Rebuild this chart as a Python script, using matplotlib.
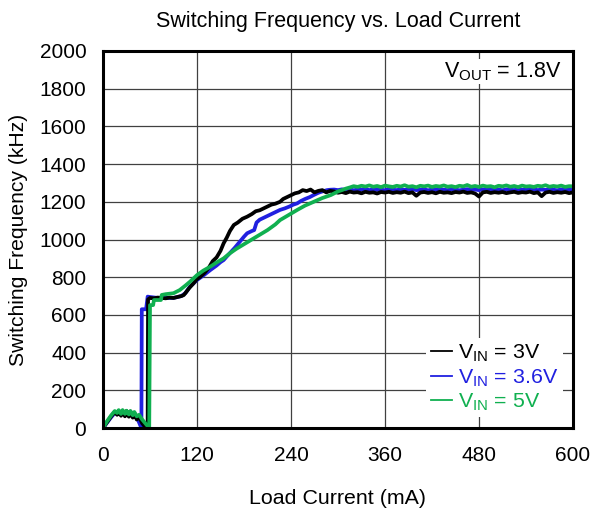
import numpy as np
import matplotlib
matplotlib.use('Agg')
import matplotlib.pyplot as plt
from matplotlib.lines import Line2D

plt.rcParams['font.family'] = ['Liberation Sans', 'DejaVu Sans']
plt.rcParams['mathtext.fontset'] = 'custom'
plt.rcParams['mathtext.rm'] = 'Liberation Sans'
plt.rcParams['mathtext.it'] = 'Liberation Sans'

# load current (mA) and switching frequency (kHz)
flat_ma = list(range(295, 601, 5))

ma_3v = [0, 5, 10, 15, 18, 20, 23, 25, 28, 30, 33, 35, 38, 40, 43, 46, 50, 54, 57,
         57.5, 60, 65, 70, 75, 80, 85, 90, 95, 100, 103, 106, 110, 115, 120, 125,
         130, 135, 140, 145, 150, 154, 158, 162, 167, 172, 178, 184, 190, 195, 200,
         205, 210, 215, 220, 226, 230, 235, 240, 245, 250, 255, 260, 265, 270, 275,
         280, 285, 290] + flat_ma
khz_3v = [0, 30, 60, 85, 70, 90, 65, 92, 62, 90, 60, 88, 55, 80, 45, 60, 25, 5, 0,
          682, 690, 688, 692, 690, 688, 692, 690, 695, 700, 705, 720, 742, 765, 790, 805,
          825, 850, 885, 905, 940, 980, 1010, 1045, 1077, 1090, 1110, 1121, 1135, 1150, 1155,
          1165, 1175, 1185, 1190, 1200, 1215, 1225, 1235, 1245, 1250, 1262, 1257, 1265, 1250, 1258,
          1262, 1250, 1258,
          1255, 1248, 1252, 1246, 1254, 1249, 1251, 1245, 1253, 1248, 1250, 1244, 1252,
          1249, 1253, 1247, 1251, 1248, 1254, 1246, 1250, 1232, 1249, 1252, 1247, 1251,
          1245, 1253, 1248, 1250, 1246, 1252, 1249, 1254, 1247, 1250, 1244, 1228, 1250,
          1253, 1247, 1251, 1248, 1252, 1246, 1250, 1253, 1247, 1251, 1249, 1254, 1246,
          1250, 1230, 1249, 1253, 1247, 1251, 1248, 1252, 1246, 1250]

ma_36v = [0, 10, 15, 20, 25, 30, 35, 40, 45, 49, 49.5, 55, 57, 60, 70, 80, 90, 100,
          105, 111, 115, 120, 125, 130, 137, 145, 150, 154, 158, 162, 168, 175, 180, 184,
          190, 193, 196, 200, 205, 210, 215, 220, 226, 232, 238, 243, 248, 253, 258, 264,
          269, 275, 280, 286, 290] + flat_ma
khz_36v = [0, 55, 80, 85, 80, 85, 80, 70, 40, 0, 630, 630, 697, 695, 690, 690, 690, 700,
           715, 750, 765, 785, 800, 815, 838, 862, 880, 891, 910, 928, 955, 990, 1015, 1033,
           1045, 1050, 1090, 1105, 1115, 1125, 1135, 1145, 1157, 1165, 1175, 1185, 1192, 1205, 1215, 1225,
           1236, 1248, 1255, 1262, 1264,
           1265, 1262, 1266, 1263, 1267, 1261, 1265, 1264, 1268, 1262, 1266, 1263, 1265,
           1261, 1267, 1264, 1262, 1266, 1263, 1265, 1268, 1262, 1264, 1266, 1261, 1265,
           1263, 1267, 1264, 1262, 1266, 1265, 1261, 1264, 1267, 1263, 1265, 1262, 1266,
           1264, 1268, 1263, 1265, 1261, 1266, 1264, 1262, 1267, 1263, 1265, 1264, 1266,
           1262, 1265, 1263, 1267, 1264, 1261, 1266, 1263, 1265, 1264]

ma_5v = [0, 5, 10, 15, 18, 20, 23, 25, 28, 30, 33, 35, 38, 40, 43, 46, 50, 55, 59,
         60, 64, 65, 74, 75, 80, 90, 98, 105, 111, 120, 128, 137, 145, 154, 162, 170,
         180, 190, 200, 210, 220, 226, 235, 248, 258, 269, 280, 291] + flat_ma[1:]
khz_5v = [0, 35, 65, 90, 80, 95, 75, 95, 75, 92, 72, 90, 68, 85, 62, 70, 45, 20, 0,
          652, 652, 679, 679, 706, 710, 715, 732, 755, 776, 811, 835, 856, 878, 900, 927, 950,
          975, 1000, 1025, 1050, 1080, 1103, 1125, 1157, 1180, 1200, 1220, 1236,
          1255, 1262, 1270, 1276, 1283, 1279, 1285, 1281, 1287, 1280, 1284, 1278, 1286,
          1282, 1279, 1285, 1281, 1288, 1280, 1283, 1277, 1285, 1282, 1286, 1279, 1284,
          1281, 1287, 1280, 1283, 1278, 1285, 1282, 1289, 1280, 1284, 1279, 1286, 1281,
          1283, 1277, 1285, 1282, 1287, 1280, 1284, 1278, 1286, 1281, 1283, 1279, 1285,
          1282, 1288, 1280, 1284, 1281, 1286, 1279, 1283, 1282]

xticks = [0, 120, 240, 360, 480, 600]
yticks = list(range(0, 2001, 200))

c_3v = 'black'
c_36v = '#2020e0'
c_5v = '#10b050'

fig = plt.figure(figsize=(5.91, 5.11), dpi=100)
ax = fig.add_axes([0.1743, 0.1624, 0.7952, 0.7378])

ax.plot(ma_36v, khz_36v, color=c_36v, lw=2.7, zorder=3)
ax.plot(ma_3v, khz_3v, color=c_3v, lw=2.7, zorder=4)
ax.plot(ma_5v, khz_5v, color=c_5v, lw=2.7, zorder=5)

ax.set_xlim(0, 600)
ax.set_ylim(0, 2000)
ax.set_xticks(xticks)
ax.set_yticks(yticks)
ax.tick_params(axis='x', length=0, labelsize=15, pad=13)
ax.tick_params(axis='y', length=0, labelsize=15, pad=12)
ax.grid(True, color='#404040', lw=0.9)
ax.set_axisbelow(True)
for sp in ax.spines.values():
    sp.set_linewidth(2.2)
    sp.set_zorder(10)

ax.set_title('Switching Frequency vs. Load Current', fontsize=15.5, pad=17)
ax.set_xlabel('Load Current (mA)', fontsize=15.4, labelpad=17)
ax.set_ylabel('Switching Frequency (kHz)', fontsize=15.2, labelpad=8)

ax.text(0.975, 0.945, r'V$_{\mathrm{OUT}}$ = 1.8V', transform=ax.transAxes,
        ha='right', va='center', fontsize=15.5, zorder=6,
        bbox=dict(facecolor='white', edgecolor='none', pad=1))

handles = [Line2D([], [], color=c_3v, lw=1.3),
           Line2D([], [], color=c_36v, lw=1.3),
           Line2D([], [], color=c_5v, lw=1.3)]
labels = [r'V$_{\mathrm{IN}}$ = 3V', r'V$_{\mathrm{IN}}$ = 3.6V', r'V$_{\mathrm{IN}}$ = 5V']
leg = ax.legend(handles, labels, loc='lower left', bbox_to_anchor=(0.665, 0.0),
                fontsize=15.4, frameon=True, facecolor='white', edgecolor='none',
                framealpha=1, fancybox=False, handlelength=1.0, handletextpad=0.3,
                labelspacing=0.15, borderpad=0.2, labelcolor='linecolor')
leg.set_zorder(6)

plt.savefig('out.png', dpi=100)
